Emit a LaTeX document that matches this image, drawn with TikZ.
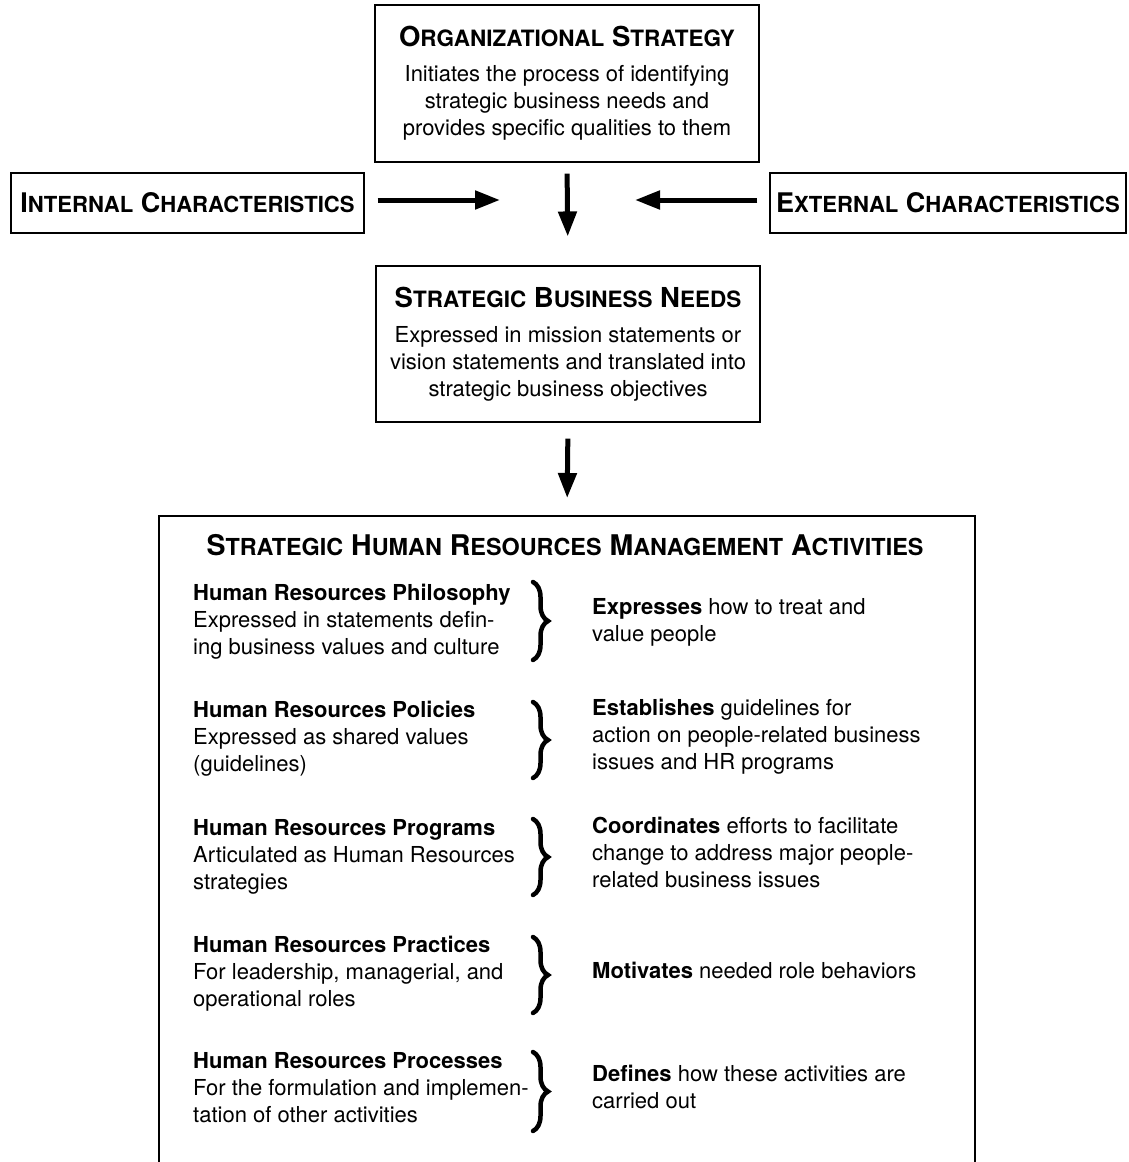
\documentclass[tikz,border=0pt]{standalone}
\usepackage{fontspec}
\setmainfont{TeX Gyre Heros}
\usetikzlibrary{arrows.meta,positioning,decorations.pathreplacing}
\newcommand{\bodyfont}{\fontsize{22}{27}\selectfont}
\newcommand{\boxtitle}{\fontsize{27.5}{32}\selectfont\bfseries\def\losize{22.5}}
\newcommand{\sidetitle}{\fontsize{27}{30}\selectfont\bfseries\def\losize{22.1}}
\newcommand{\acttitle}{\fontsize{28.5}{32}\selectfont\bfseries\def\losize{23.4}}
\newcommand{\lo}[1]{{\fontsize{\losize}{\losize}\selectfont #1}}

\begin{document}
\begin{tikzpicture}[x=1pt,y=-1pt,
	frame/.style={draw,line width=1.1pt,rectangle,align=center,font=\bodyfont},
	flow/.style={line width=5pt,-{Triangle[length=25pt,width=18pt]}},
	lefttext/.style={anchor=north west,align=left,inner sep=0pt,font=\bodyfont},
	righttext/.style={anchor=north west,align=left,inner sep=0pt,font=\bodyfont},
	curly/.style={line width=4.5pt,line cap=round,decorate,decoration={brace,amplitude=15pt}}]
	\useasboundingbox (0,0) rectangle (1128,1162);
	
	%top boxes
	\node[frame,minimum width=384pt,minimum height=157pt] (org) at (567,83.5)
		{{\boxtitle O\lo{RGANIZATIONAL} S\lo{TRATEGY}}\\[8pt]
		Initiates the process of identifying\\strategic business needs and\\provides specific qualities to them};
	\node[frame,minimum width=353pt,minimum height=60pt] (int) at (187.5,203)
		{\sidetitle I\lo{NTERNAL} C\lo{HARACTERISTICS}};
	\node[frame,minimum width=356pt,minimum height=60pt] (ext) at (948,203)
		{\sidetitle E\lo{XTERNAL} C\lo{HARACTERISTICS}};
	\node[frame,minimum width=384pt,minimum height=156pt] (needs) at (568,344)
		{{\boxtitle S\lo{TRATEGIC} B\lo{USINESS} N\lo{EEDS}}\\[8pt]
		Expressed in mission statements or\\vision statements and translated into\\strategic business objectives};
	\coordinate (hub) at (567,200);
	
	%arrows
	\draw[flow,shorten <=13pt,shorten >=67pt] (int.east |- hub) -- (hub);
	\draw[flow,shorten <=12pt,shorten >=68pt] (ext.west |- hub) -- (hub);
	\draw[flow,shorten <=11pt,shorten >=29pt] (org.south) -- (needs.north);
	
	%activities box, open at the bottom
	\coordinate (actnw) at (159,516);
	\coordinate (actne) at (975,516);
	\coordinate (acttop) at (567,516);
	\draw[line width=1.1pt] (actnw |- 0,1162) -- (actnw) -- (actne) -- (actne |- 0,1162);
	\draw[flow,shorten <=16pt,shorten >=18pt] (needs.south) -- (acttop);
	\node[inner sep=0pt] (act) at (565,545)
		{\acttitle S\lo{TRATEGIC} H\lo{UMAN} R\lo{ESOURCES} M\lo{ANAGEMENT} A\lo{CTIVITIES}};
	
	%rows
	\node[lefttext] (phil) at (193,584) {\textbf{Human Resources Philosophy}\\Expressed in statements defin-\\ing business values and culture};
	\node[righttext] (philr) at (592,598) {\textbf{Expresses} how to treat and\\value people};
	\draw[curly] (533,582) -- (533,660);
	
	\node[lefttext] (pol) at (193,701) {\textbf{Human Resources Policies}\\Expressed as shared values\\(guidelines)};
	\node[righttext] (polr) at (592,699) {\textbf{Establishes} guidelines for\\action on people-related business\\issues and HR programs};
	\draw[curly] (533,702) -- (533,778);
	
	\node[lefttext] (prog) at (193,819) {\textbf{Human Resources Programs}\\Articulated as Human Resources\\strategies};
	\node[righttext] (progr) at (592,817) {\textbf{Coordinates} efforts to facilitate\\change to address major people-\\related business issues};
	\draw[curly] (533,819) -- (533,895);
	
	\node[lefttext] (prac) at (193,936) {\textbf{Human Resources Practices}\\For leadership, managerial, and\\operational roles};
	\node[righttext] (pracr) at (592,962) {\textbf{Motivates} needed role behaviors};
	\draw[curly] (533,937) -- (533,1013);
	
	\node[lefttext] (proc) at (193,1052) {\textbf{Human Resources Processes}\\For the formulation and implemen-\\tation of other activities};
	\node[righttext] (procr) at (592,1065) {\textbf{Defines} how these activities are\\carried out};
	\draw[curly] (533,1052) -- (533,1131);
\end{tikzpicture}
\end{document}
